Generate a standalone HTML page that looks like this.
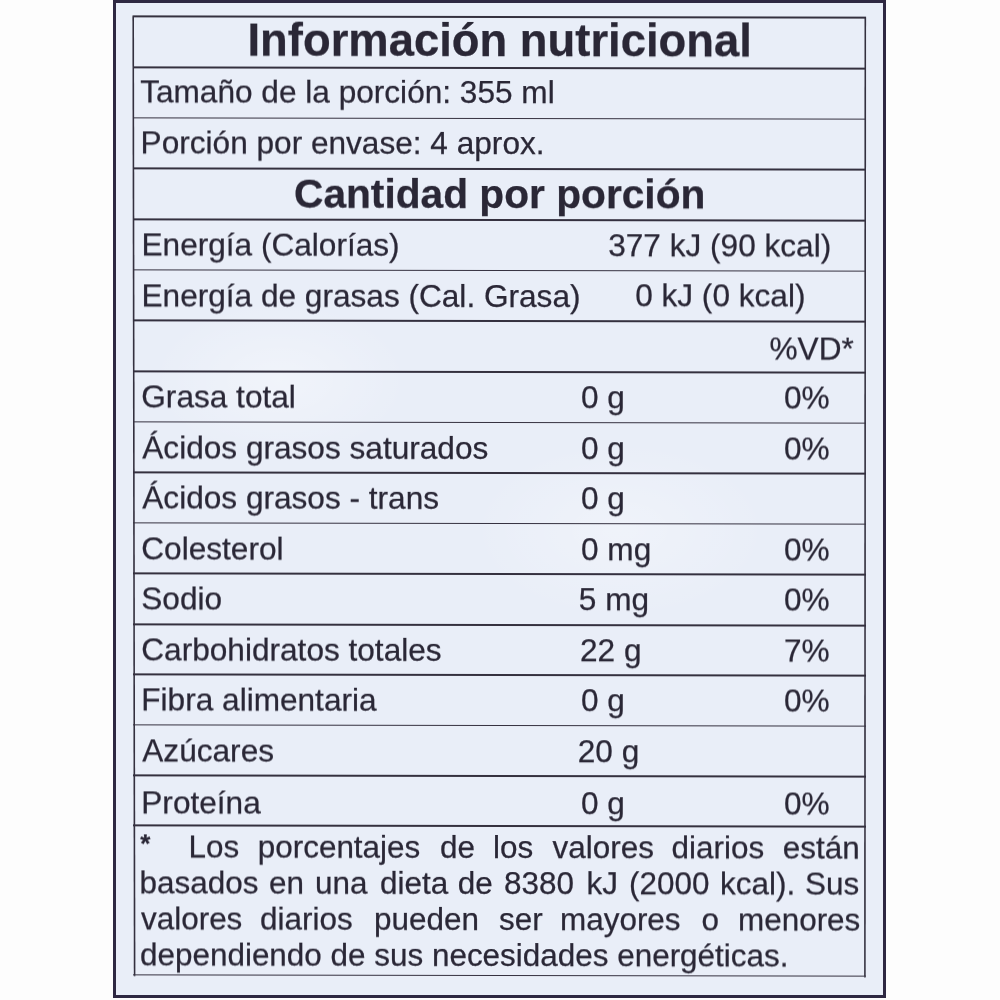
<!DOCTYPE html>
<html><head><meta charset="utf-8"><style>
html,body{margin:0;padding:0;width:1000px;height:1000px;overflow:hidden;background:#fdfdfd;}
body{position:relative;font-family:"Liberation Sans",sans-serif;color:#2a2736;}
#wrap{position:absolute;left:0;top:0;width:1000px;height:1000px;transform:skewY(0.1deg);transform-origin:500px 500px;filter:blur(0.35px);}
.box{position:absolute;left:112.7px;top:-0.5px;width:773.6px;height:998px;box-sizing:border-box;border:3.3px solid #2e2842;background:#e9eef8;filter:blur(0.3px);}
.v{position:absolute;width:1.6px;background:#34303f;}
.h{position:absolute;left:132.7px;width:733.1px;height:1.5px;background:#34303f;}
.t{position:absolute;white-space:pre;line-height:1;-webkit-text-stroke:0.25px #2a2736;}
</style></head><body>
<div class="box"></div>
<div style="position:absolute;left:150px;top:300px;width:260px;height:160px;background:radial-gradient(ellipse at center,rgba(255,255,255,0.35),rgba(255,255,255,0) 70%);"></div>
<div style="position:absolute;left:470px;top:440px;width:300px;height:180px;background:radial-gradient(ellipse at center,rgba(255,255,255,0.3),rgba(255,255,255,0) 70%);"></div>
<div id="wrap">
<svg style="position:absolute;left:0;top:0" width="1000" height="1000"><line x1="133.2" y1="16.3" x2="134.6" y2="976.6999999999999" stroke="#34303f" stroke-width="1.6"/><line x1="865.3" y1="16.3" x2="864.9" y2="976.6999999999999" stroke="#34303f" stroke-width="1.6"/></svg>

<div class="h" style="top:16.30px"></div>
<div class="h" style="top:67.00px"></div>
<div class="h" style="top:117.60px"></div>
<div class="h" style="top:168.40px"></div>
<div class="h" style="top:219.10px"></div>
<div class="h" style="top:269.50px"></div>
<div class="h" style="top:320.10px"></div>
<div class="h" style="top:371.10px"></div>
<div class="h" style="top:421.50px"></div>
<div class="h" style="top:472.10px"></div>
<div class="h" style="top:522.70px"></div>
<div class="h" style="top:573.10px"></div>
<div class="h" style="top:624.10px"></div>
<div class="h" style="top:674.10px"></div>
<div class="h" style="top:724.70px"></div>
<div class="h" style="top:775.10px"></div>
<div class="h" style="top:825.40px"></div>
<div class="h" style="top:974.90px"></div>
<div class="t" style="left:247.50px;top:17.80px;font-size:45.4px;font-weight:bold;">Información nutricional</div>
<div class="t" style="left:140.20px;top:77.30px;font-size:31.6px;">Tamaño de la porción: 355 ml</div>
<div class="t" style="left:140.60px;top:127.90px;font-size:31.6px;">Porción por envase: 4 aprox.</div>
<div class="t" style="left:294.00px;top:173.70px;font-size:40.7px;font-weight:bold;">Cantidad por porción</div>
<div class="t" style="left:141.50px;top:229.70px;font-size:31.6px;">Energía (Calorías)</div>
<div class="t" style="left:608.20px;top:229.80px;font-size:31.6px;">377 kJ (90 kcal)</div>
<div class="t" style="left:141.50px;top:280.80px;font-size:31.6px;">Energía de grasas (Cal. Grasa)</div>
<div class="t" style="left:635.15px;top:280.20px;font-size:31.6px;">0 kJ (0 kcal)</div>
<div class="t" style="left:769.50px;top:333.10px;font-size:31.6px;">%VD*</div>
<div class="t" style="left:141.30px;top:382.20px;font-size:31.6px;">Grasa total</div>
<div class="t" style="left:581.00px;top:382.20px;font-size:31.6px;">0 g</div>
<div class="t" style="left:784.00px;top:382.20px;font-size:31.6px;">0%</div>
<div class="t" style="left:142.30px;top:432.60px;font-size:31.6px;">Ácidos grasos saturados</div>
<div class="t" style="left:581.00px;top:432.60px;font-size:31.6px;">0 g</div>
<div class="t" style="left:784.00px;top:432.60px;font-size:31.6px;">0%</div>
<div class="t" style="left:142.30px;top:483.20px;font-size:31.6px;">Ácidos grasos - trans</div>
<div class="t" style="left:581.00px;top:483.20px;font-size:31.6px;">0 g</div>
<div class="t" style="left:141.30px;top:533.80px;font-size:31.6px;">Colesterol</div>
<div class="t" style="left:581.00px;top:533.80px;font-size:31.6px;">0 mg</div>
<div class="t" style="left:784.00px;top:533.80px;font-size:31.6px;">0%</div>
<div class="t" style="left:141.30px;top:584.20px;font-size:31.6px;">Sodio</div>
<div class="t" style="left:578.80px;top:584.20px;font-size:31.6px;">5 mg</div>
<div class="t" style="left:784.00px;top:584.20px;font-size:31.6px;">0%</div>
<div class="t" style="left:141.30px;top:635.20px;font-size:31.6px;">Carbohidratos totales</div>
<div class="t" style="left:580.00px;top:635.20px;font-size:31.6px;">22 g</div>
<div class="t" style="left:784.00px;top:635.20px;font-size:31.6px;">7%</div>
<div class="t" style="left:141.30px;top:685.20px;font-size:31.6px;">Fibra alimentaria</div>
<div class="t" style="left:581.00px;top:685.20px;font-size:31.6px;">0 g</div>
<div class="t" style="left:784.00px;top:685.20px;font-size:31.6px;">0%</div>
<div class="t" style="left:142.30px;top:735.80px;font-size:31.6px;">Azúcares</div>
<div class="t" style="left:577.80px;top:735.80px;font-size:31.6px;">20 g</div>
<div class="t" style="left:141.30px;top:787.50px;font-size:31.6px;">Proteína</div>
<div class="t" style="left:581.00px;top:787.50px;font-size:31.6px;">0 g</div>
<div class="t" style="left:784.00px;top:787.50px;font-size:31.6px;">0%</div>
<div class="t" style="left:188.50px;top:831.90px;font-size:31.45px;">Los</div>
<div class="t" style="left:257.75px;top:831.90px;font-size:31.45px;">porcentajes</div>
<div class="t" style="left:440.00px;top:831.90px;font-size:31.45px;">de</div>
<div class="t" style="left:493.00px;top:831.90px;font-size:31.45px;">los</div>
<div class="t" style="left:552.50px;top:831.90px;font-size:31.45px;">valores</div>
<div class="t" style="left:671.50px;top:831.90px;font-size:31.45px;">diarios</div>
<div class="t" style="left:782.75px;top:831.90px;font-size:31.45px;">están</div>
<div class="t" style="left:139.50px;top:867.90px;font-size:31.45px;">basados</div>
<div class="t" style="left:269.00px;top:867.90px;font-size:31.45px;">en</div>
<div class="t" style="left:315.00px;top:867.90px;font-size:31.45px;">una</div>
<div class="t" style="left:380.00px;top:867.90px;font-size:31.45px;">dieta</div>
<div class="t" style="left:457.75px;top:867.90px;font-size:31.45px;">de</div>
<div class="t" style="left:504.00px;top:867.90px;font-size:31.45px;">8380</div>
<div class="t" style="left:586.50px;top:867.90px;font-size:31.45px;">kJ</div>
<div class="t" style="left:629.00px;top:867.90px;font-size:31.45px;">(2000</div>
<div class="t" style="left:720.00px;top:867.90px;font-size:31.45px;">kcal).</div>
<div class="t" style="left:805.00px;top:867.90px;font-size:31.45px;">Sus</div>
<div class="t" style="left:141.00px;top:903.60px;font-size:31.45px;">valores</div>
<div class="t" style="left:260.00px;top:903.60px;font-size:31.45px;">diarios</div>
<div class="t" style="left:374.00px;top:903.60px;font-size:31.45px;">pueden</div>
<div class="t" style="left:499.00px;top:903.60px;font-size:31.45px;">ser</div>
<div class="t" style="left:560.00px;top:903.60px;font-size:31.45px;">mayores</div>
<div class="t" style="left:701.50px;top:903.60px;font-size:31.45px;">o</div>
<div class="t" style="left:738.00px;top:903.60px;font-size:31.45px;">menores</div>
<div class="t" style="left:140.00px;top:939.50px;font-size:31.45px;">dependiendo de sus necesidades energéticas.</div>
<div class="t" style="left:140.30px;top:831.00px;font-size:26px;font-weight:bold;">*</div>
</div></body></html>
